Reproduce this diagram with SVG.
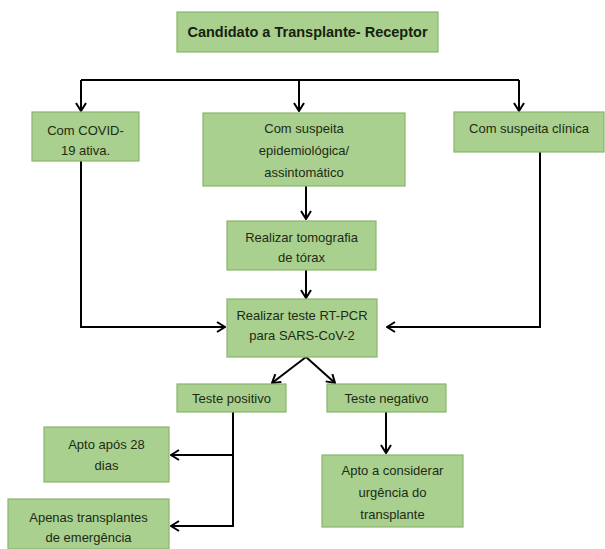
<svg xmlns="http://www.w3.org/2000/svg" width="605" height="549" viewBox="0 0 605 549">
<style>
.box{fill:#a9d08e;stroke:#8ab56c;stroke-width:1.2}
.t{font-family:"Liberation Sans",Arial,sans-serif;font-size:13px;fill:#1d2b14;text-anchor:middle}
.tb{font-family:"Liberation Sans",Arial,sans-serif;font-size:14.5px;font-weight:bold;fill:#16220f;text-anchor:middle}
.c{fill:none;stroke:#000;stroke-width:2}
</style>
<defs>
<marker id="ah" viewBox="0 0 12 12" refX="11" refY="6" markerWidth="12" markerHeight="12" markerUnits="userSpaceOnUse" orient="auto">
<path d="M3,1 L11,6 L3,11" fill="none" stroke="#000" stroke-width="2"/>
</marker>
</defs>
<rect width="605" height="549" fill="#fff"/>
<g id="connectors">
<path class="c" d="M81,80 H519"/>
<path class="c" d="M81,80 V111" marker-end="url(#ah)"/>
<path class="c" d="M299,80 V111" marker-end="url(#ah)"/>
<path class="c" d="M519,80 V111" marker-end="url(#ah)"/>
<path class="c" d="M306,186 V219" marker-end="url(#ah)"/>
<path class="c" d="M306,270 V298" marker-end="url(#ah)"/>
<path class="c" d="M81,161 V327 H225" marker-end="url(#ah)"/>
<path class="c" d="M540,152 V327 H387" marker-end="url(#ah)"/>
<path class="c" d="M306,357 L272,383" marker-end="url(#ah)"/>
<path class="c" d="M306,357 L335,383" marker-end="url(#ah)"/>
<path class="c" d="M233,412 V526 H171" marker-end="url(#ah)"/>
<path class="c" d="M233,455 H171" marker-end="url(#ah)"/>
<path class="c" d="M386,412 V453" marker-end="url(#ah)"/>
</g>
<g id="receptor">
<rect class="box" x="177" y="12" width="261" height="40"/>
<text class="tb" x="307.5" y="37">Candidato a Transplante- Receptor</text>
</g>
<g id="covid-ativa">
<rect class="box" x="32" y="112" width="107" height="49"/>
<text class="t" x="85.5" y="134.5">Com COVID-</text>
<text class="t" x="85.5" y="154.5">19 ativa.</text>
</g>
<g id="suspeita-epidemiologica">
<rect class="box" x="203" y="113" width="202" height="73"/>
<text class="t" x="304" y="132.5">Com suspeita</text>
<text class="t" x="304" y="154.5">epidemiológica/</text>
<text class="t" x="304" y="176.5">assintomático</text>
</g>
<g id="suspeita-clinica">
<rect class="box" x="454" y="112" width="150" height="40"/>
<text class="t" x="529" y="132.5">Com suspeita clínica</text>
</g>
<g id="tomografia">
<rect class="box" x="227" y="221" width="149" height="49"/>
<text class="t" x="301.5" y="241.5">Realizar tomografia</text>
<text class="t" x="301.5" y="261.5">de tórax</text>
</g>
<g id="rt-pcr">
<rect class="box" x="227" y="299" width="150" height="58"/>
<text class="t" x="302" y="319.5">Realizar teste RT-PCR</text>
<text class="t" x="302" y="339.5">para SARS-CoV-2</text>
</g>
<g id="positivo">
<rect class="box" x="177" y="384" width="109" height="28"/>
<text class="t" x="231.5" y="402.5">Teste positivo</text>
</g>
<g id="negativo">
<rect class="box" x="327" y="384" width="119" height="28"/>
<text class="t" x="386.5" y="402.5">Teste negativo</text>
</g>
<g id="apto-28">
<rect class="box" x="44" y="427" width="125" height="55"/>
<text class="t" x="106.5" y="448.5">Apto após 28</text>
<text class="t" x="106.5" y="469.5">dias</text>
</g>
<g id="emergencia">
<rect class="box" x="8" y="499" width="161" height="50"/>
<text class="t" x="88.5" y="521.5">Apenas transplantes</text>
<text class="t" x="88.5" y="541.5">de emergência</text>
</g>
<g id="urgencia">
<rect class="box" x="322" y="455" width="141" height="72"/>
<text class="t" x="392.5" y="474.5">Apto a considerar</text>
<text class="t" x="392.5" y="496.5">urgência do</text>
<text class="t" x="392.5" y="518.5">transplante</text>
</g>
</svg>
